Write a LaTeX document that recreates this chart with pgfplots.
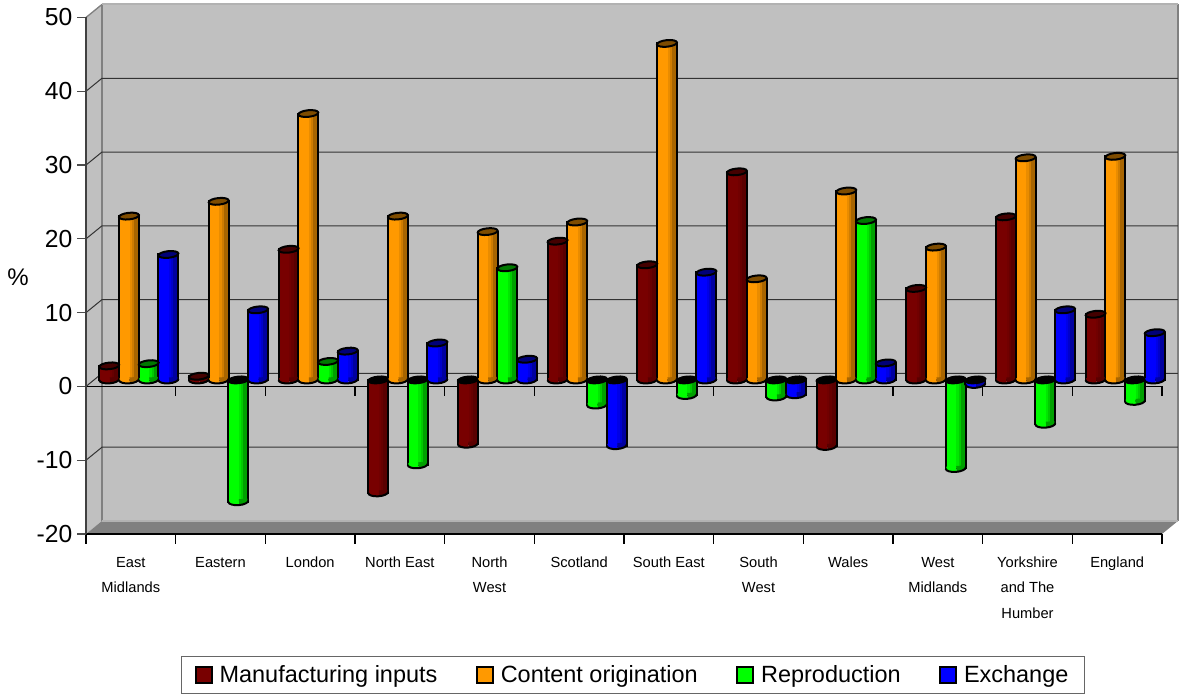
\documentclass[border=0pt]{standalone}
\usepackage{pgfplots}
\usepackage{pgfplotstable}
\usepackage{fontspec}
\setmainfont{Liberation Sans}
\pgfplotsset{compat=1.18}

\definecolor{redL}{HTML}{780000}\definecolor{redD}{HTML}{5A0000}
\definecolor{orgL}{HTML}{FF9900}\definecolor{orgD}{HTML}{A86500}
\definecolor{grnL}{HTML}{00FF00}\definecolor{grnD}{HTML}{00A000}
\definecolor{bluL}{HTML}{0000FF}\definecolor{bluD}{HTML}{0000A0}
\definecolor{wall}{HTML}{C0C0C0}
\definecolor{floorc}{HTML}{808080}

% Regional change by sector; c is the category slot
\pgfplotstableread{
c  mfg    content repro  exch
0  1.9    22.2    2.2    17.0
1  0.5    24.2   -16.5   9.5
2  17.7   36.1    2.5    3.9
3  -15.3  22.2   -11.5   5.0
4  -8.7   20.1    15.2   2.8
5  18.8   21.4   -3.4   -8.9
6  15.6   45.6   -2.1    14.6
7  28.2   13.7   -2.3   -2.0
8  -9.0   25.6    21.6   2.3
9  12.4   18.0   -12.0  -0.6
10 22.1   30.1   -6.0    9.5
11 8.9    30.3   -2.9    6.4
}\datatable

% Cylinder end pieces
\pgfdeclareplotmark{cyltop}{%
  \pgftransformrotate{6}%
  \pgfpathellipse{\pgfpointorigin}{\pgfqpoint{\pgfplotmarksize}{0pt}}{\pgfqpoint{0pt}{0.33\pgfplotmarksize}}%
  \pgfusepathqfillstroke}
\newcommand\declarebase[3]{%
  \pgfdeclareplotmark{#1}{%
    \pgftransformrotate{4}%
    % lit left part of the rounded end
    \pgfsetfillcolor{#2}%
    \pgfpathmoveto{\pgfqpoint{-6.9pt}{1.8pt}}%
    \pgfpathlineto{\pgfqpoint{-6.9pt}{0pt}}%
    \pgfpathcurveto{\pgfqpoint{-6.9pt}{-1.3pt}}{\pgfqpoint{-3.8pt}{-2.3pt}}{\pgfqpoint{0pt}{-2.3pt}}%
    \pgfpathlineto{\pgfqpoint{0.5pt}{-2.3pt}}%
    \pgfpathlineto{\pgfqpoint{0.5pt}{1.8pt}}%
    \pgfpathclose\pgfusepathqfill
    % shaded right part
    \pgfsetfillcolor{#3}%
    \pgfpathmoveto{\pgfqpoint{0.5pt}{1.8pt}}%
    \pgfpathlineto{\pgfqpoint{0.5pt}{-2.3pt}}%
    \pgfpathcurveto{\pgfqpoint{3.8pt}{-2.3pt}}{\pgfqpoint{6.9pt}{-1.3pt}}{\pgfqpoint{6.9pt}{0pt}}%
    \pgfpathlineto{\pgfqpoint{6.9pt}{1.8pt}}%
    \pgfpathclose\pgfusepathqfill
    % rim
    \pgfsetlinewidth{1.5pt}\pgfsetstrokecolor{black}%
    \pgfpathmoveto{\pgfqpoint{-7.5pt}{0.3pt}}%
    \pgfpathcurveto{\pgfqpoint{-7.5pt}{-1.3pt}}{\pgfqpoint{-4.1pt}{-2.6pt}}{\pgfqpoint{0pt}{-2.6pt}}%
    \pgfpathcurveto{\pgfqpoint{4.1pt}{-2.6pt}}{\pgfqpoint{7.5pt}{-1.3pt}}{\pgfqpoint{7.5pt}{0.3pt}}%
    \pgfusepathqstroke}}
\declarebase{baseR}{redL}{redD}
\declarebase{baseO}{orgL}{orgD}
\declarebase{baseG}{grnL}{grnD}
\declarebase{baseB}{bluL}{bluD}

% One series: body with its darker right side, near end, and far end of each cylinder
\newcommand\cylseries[5]{% column, offset, light, dark, base mark
  \addplot[forget plot,ybar,bar width=15pt,bar shift=0pt,draw=black,line width=1.5pt,
           fill=#3,mark=none]
    table[x expr=\thisrow{c}+#2,y=#1]{\datatable};
  \addplot[forget plot,ycomb,xshift=1.4pt,line width=1.7pt,color=#4!25!#3,mark=none]
    table[x expr=\thisrow{c}+#2,y=#1]{\datatable};
  \addplot[forget plot,ycomb,xshift=3pt,line width=1.7pt,color=#4!55!#3,mark=none]
    table[x expr=\thisrow{c}+#2,y=#1]{\datatable};
  \addplot[forget plot,ycomb,xshift=5.2pt,line width=3pt,color=#4,mark=none]
    table[x expr=\thisrow{c}+#2,y=#1]{\datatable};
  \addplot[forget plot,only marks,mark=#5]
    table[x expr=\thisrow{c}+#2,y expr={min(\thisrow{#1},0)}]{\datatable};
  \addplot[forget plot,only marks,mark=cyltop,mark size=7.5pt,
           mark options={fill=#4!75!black,draw=black,line width=1.5pt},restrict y to domain=0:100]
    table[x expr=\thisrow{c}+#2,y=#1]{\datatable};
  \addplot[forget plot,only marks,mark=cyltop,mark size=7.5pt,
           mark options={fill=black,draw=black,line width=1.5pt},
           restrict expr to domain={\thisrow{#1}}{-100:0}]
    table[x expr=\thisrow{c}+#2,y expr=0]{\datatable};
}

\begin{document}
\begin{tikzpicture}
\useasboundingbox (0pt,0pt) rectangle (886.5pt,521.25pt);
\node[font=\fontsize{18}{20}\selectfont] at (13.5pt,313.5pt) {\%};

% Frame: walls, floor, gridlines and axes
\begin{axis}[
  at={(64.5pt,120.75pt)},anchor=south west,
  scale only axis,width=807pt,height=387.4pt,
  xmin=0,xmax=12,ymin=-20,ymax=50,
  clip=false,axis on top,
  axis lines*=left,
  x axis line style={black,line width=1pt},
  y axis line style={black!75,line width=1.5pt},
  ytick={-20,-10,...,50},
  major y tick style={black!70,line width=0.9pt},
  major tick length=6.75pt,
  tick align=outside,
  y tick label style={font=\fontsize{18.5}{20}\selectfont},
  /pgf/number format/assume math mode=true,
  xtick={0.5,1.5,...,11.5},
  minor xtick={0,1,...,12},
  major x tick style={draw=none},
  minor x tick style={black,line width=0.9pt},
  minor tick length=7.5pt,
  xticklabels={East\\Midlands,Eastern,London,North East,North\\West,Scotland,South East,South\\West,Wales,West\\Midlands,Yorkshire\\and The\\Humber,England},
  x tick label style={align=center,anchor=north,yshift=-7pt,
    font=\fontsize{11}{18.9}\selectfont},
]
\fill[wall] (axis cs:0,50) -- (axis cs:0.178,51.76) -- (axis cs:12.178,51.76)
  -- (axis cs:12.178,-18.24) -- (axis cs:0.178,-18.24) -- (axis cs:0,-20) -- cycle;
\fill[floorc] (axis cs:0,-20) -- (axis cs:0.178,-18.24) -- (axis cs:12.178,-18.24) -- (axis cs:12,-20) -- cycle;
\draw[floorc,line width=1.5pt] (axis cs:0.178,-18.24) -- (axis cs:0.178,51.76);
\draw[floorc,line width=1.5pt] (axis cs:12.178,-18.24) -- (axis cs:12.178,51.76);
\draw[floorc,line width=1pt] (axis cs:0,50) -- (axis cs:0.178,51.76);
\draw[black!30,line width=1.5pt] (axis cs:0.178,51.76) -- (axis cs:12.178,51.76);
\draw[black!30,line width=1pt] (axis cs:0.178,-18.24) -- (axis cs:12.178,-18.24);
\pgfplotsinvokeforeach{-10,0,10,20,30,40}{
  \draw[black!80,line width=0.75pt] (axis cs:0,#1) -- (axis cs:0.178,#1+1.76) -- (axis cs:12.178,#1+1.76);
}
\draw[black,line width=0.9pt] (axis cs:-0.1,0) -- (axis cs:12,0);
\pgfplotsinvokeforeach{0,1,...,12}{
  \draw[black,line width=0.9pt] (axis cs:#1,0) -- (axis cs:#1,-1.36);
}
\end{axis}

% Cylinders stand midway between the front edge and the back wall
\begin{axis}[
  at={(70.5pt,125.625pt)},anchor=south west,
  scale only axis,width=807pt,height=387.4pt,
  xmin=0,xmax=12,ymin=-20,ymax=50,
  clip=false,hide axis,
  legend columns=4,
  legend image code/.code={\draw[#1,draw=black,line width=1.5pt] (0pt,-6pt) rectangle (12pt,6pt);},
  legend style={at={(0.5,-0.2856)},anchor=center,draw=black!60,line width=0.8pt,
    font=\fontsize{17.6}{20}\selectfont,inner xsep=10pt,inner ysep=5pt,xshift=0.75pt,
    /tikz/every odd column/.append style={column sep=3pt},
    /tikz/every even column/.append style={column sep=27pt}},
]
\cylseries{mfg}{0.17}{redL}{redD}{baseR}
\cylseries{content}{0.39}{orgL}{orgD}{baseO}
\cylseries{repro}{0.61}{grnL}{grnD}{baseG}
\cylseries{exch}{0.83}{bluL}{bluD}{baseB}
\addlegendimage{fill=redL}\addlegendentry{Manufacturing inputs}
\addlegendimage{fill=orgL}\addlegendentry{Content origination}
\addlegendimage{fill=grnL}\addlegendentry{Reproduction}
\addlegendimage{fill=bluL}\addlegendentry{Exchange}
\end{axis}
\end{tikzpicture}
\end{document}
